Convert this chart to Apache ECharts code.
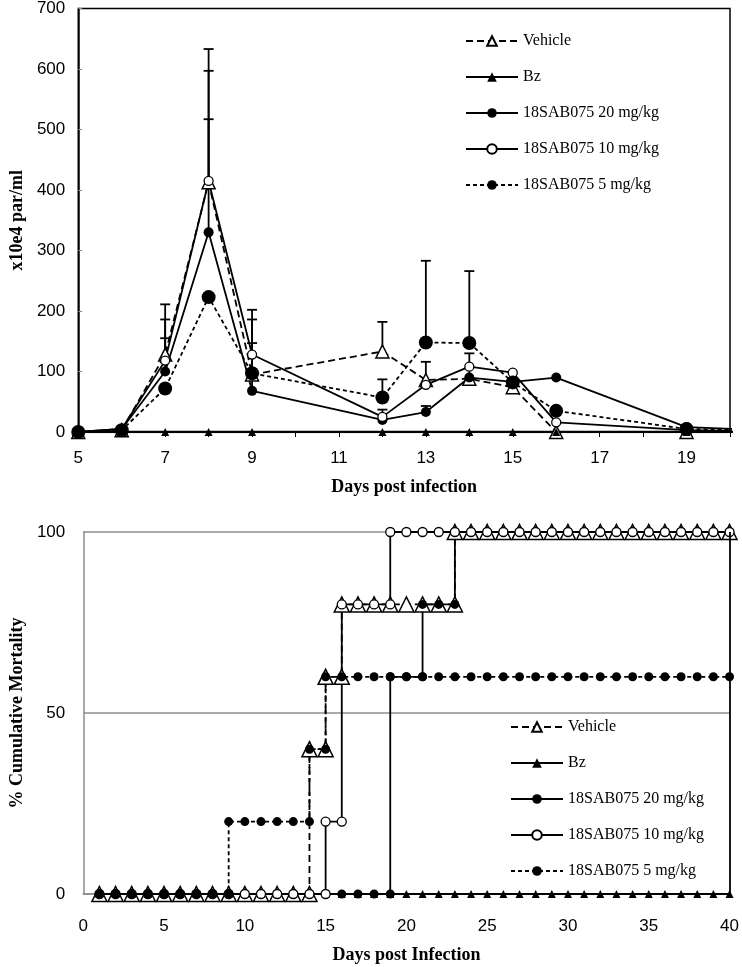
<!DOCTYPE html>
<html>
<head>
<meta charset="utf-8">
<script src="https://cdn.jsdelivr.net/npm/echarts@6/dist/echarts.min.js"></script>
<style>
html,body{margin:0;padding:0;background:#fff}
#main{width:742px;height:967px}
</style>
</head>
<body>
<div id="main"></div>
<script>
var names = ['Vehicle', 'Bz', '18SAB075 20 mg/kg', '18SAB075 10 mg/kg', '18SAB075 5 mg/kg'];

// parasitemia (x10e4 par/ml) per day post infection
var dayPar = [5, 6, 7, 8, 9, 12, 13, 14, 15, 16, 19, 22];
var vehiclePar = [0, 3, 128, 413, 95, 133, 86, 88, 74, 0, 0, 0];
var bzPar = [0, 0, 0, 0, 0, 0, 0, 0, 0, 0, 0, 0];
var mg20Par = [0, 5, 100, 330, 68, 20, 33, 90, 83, 90, 8, 0];
var mg10Par = [0, 5, 118, 415, 128, 25, 78, 108, 98, 16, 3, 0];
var mg5Par = [0, 3, 72, 223, 97, 57, 148, 147, 82, 35, 5, 0];

// error bars (upper side only)
var errDay = [7, 7, 7, 8, 8, 8, 9, 9, 9, 12, 12, 12, 13, 13, 13, 14, 14];
var errMean = [128, 118, 100, 413, 415, 330, 95, 128, 68, 133, 57, 25, 148, 78, 33, 147, 108];
var errTop = [211, 186, 155, 633, 597, 517, 202, 186, 147, 182, 87, 37, 283, 116, 43, 266, 130];

// cumulative mortality (%) on days 1..40
var vehicleMort = [0,0,0,0,0,0,0,0,0,0,0,0,0,40,60,80,80,80,80,80,80,80,100,100,100,100,100,100,100,100,100,100,100,100,100,100,100,100,100,100];
var bzMort = [0,0,0,0,0,0,0,0,0,0,0,0,0,0,0,0,0,0,0,0,0,0,0,0,0,0,0,0,0,0,0,0,0,0,0,0,0,0,0,0];
var mg20Mort = [0,0,0,0,0,0,0,0,0,0,0,0,0,0,0,0,0,0,60,60,80,80,100,100,100,100,100,100,100,100,100,100,100,100,100,100,100,100,100,100];
var mg10Mort = [0,0,0,0,0,0,0,0,0,0,0,0,0,0,20,80,80,80,100,100,100,100,100,100,100,100,100,100,100,100,100,100,100,100,100,100,100,100,100,100];
var mg5Mort = [0,0,0,0,0,0,0,0,20,20,20,20,20,40,60,60,60,60,60,60,60,60,60,60,60,60,60,60,60,60,60,60,60,60,60,60,60,60,60,60];

var sans = 'Liberation Sans';
var serif = 'Liberation Serif';

function pairs(xs, ys) {
    var out = [];
    for (var i = 0; i < xs.length; i++) out.push([xs[i], ys[i]]);
    return out;
}
// step curve: on a day where the value changes, mark both old and new level
function steps(vals) {
    var out = [];
    for (var i = 0; i < vals.length; i++) {
        if (i > 0 && vals[i] !== vals[i - 1]) out.push([i + 1, vals[i - 1]]);
        out.push([i + 1, vals[i]]);
    }
    return out;
}

var openTri = {color: '#fff', borderColor: '#000', borderWidth: 1.5};
var openDot = {color: '#fff', borderColor: '#000', borderWidth: 1.3};
var fill = {color: '#000'};

function mk(name, grid, data, symbol, size, item, dash, width) {
    return {
        name: name, type: 'line', xAxisIndex: grid, yAxisIndex: grid,
        data: data, symbol: symbol, symbolSize: size, itemStyle: item,
        lineStyle: {color: '#000', width: width || 1.8, type: dash || 'solid'},
        showSymbol: true
    };
}

var legendBase = {
    data: names, orient: 'vertical', itemWidth: 52, itemHeight: 12, itemGap: 20,
    selectedMode: false,
    textStyle: {fontFamily: serif, fontSize: 16, color: '#000'}
};

var axisText = {fontFamily: sans, fontSize: 17, color: '#000'};
var titleText = {fontFamily: serif, fontWeight: 'bold', fontSize: 18, color: '#000'};

var option = {
    animation: false,
    backgroundColor: '#fff',
    legend: [
        Object.assign({left: 460, top: 28}, legendBase),
        Object.assign({left: 505, top: 714}, legendBase)
    ],
    grid: [
        {left: 71, top: 7, width: 659, height: 425, show: true, borderColor: '#000', borderWidth: 1.5},
        {left: 71, top: 532, width: 661, height: 362}
    ],
    xAxis: [
        {
            gridIndex: 0, type: 'value', min: 5, max: 20, interval: 1,
            axisLine: {show: true, onZero: false, lineStyle: {color: '#000', width: 1.5}},
            axisTick: {show: true, length: 5, lineStyle: {color: '#000'}},
            axisLabel: Object.assign({margin: 18, formatter: function (v) { return (v % 2 === 1 && v < 20) ? v : ''; }}, axisText),
            splitLine: {show: false},
            name: 'Days post infection', nameLocation: 'middle', nameGap: 46, nameTextStyle: titleText
        },
        {
            gridIndex: 1, type: 'value', min: 0, max: 40, interval: 5,
            axisLine: {show: true, onZero: false, lineStyle: {color: '#8c8c8c', width: 1.5}},
            axisTick: {show: false},
            axisLabel: Object.assign({margin: 24}, axisText),
            splitLine: {show: false},
            name: 'Days post Infection', nameLocation: 'middle', nameGap: 52, nameTextStyle: titleText
        }
    ],
    yAxis: [
        {
            gridIndex: 0, type: 'value', min: 0, max: 700, interval: 100,
            axisLine: {show: true, onZero: false, lineStyle: {color: '#000', width: 1.5}},
            axisTick: {show: true, inside: true, length: 4, lineStyle: {color: '#888'}},
            axisLabel: Object.assign({margin: 13}, axisText),
            splitLine: {show: false},
            name: 'x10e4 par/ml', nameLocation: 'middle', nameGap: 40, nameTextStyle: titleText
        },
        {
            gridIndex: 1, type: 'value', min: 0, max: 100, interval: 50,
            axisLine: {show: true, onZero: false, lineStyle: {color: '#8c8c8c', width: 1.5}},
            axisTick: {show: false},
            axisLabel: Object.assign({margin: 18}, axisText),
            splitLine: {show: true, lineStyle: {color: '#8c8c8c', width: 1.5}},
            name: '% Cumulative Mortality', nameLocation: 'middle', nameGap: 40, nameTextStyle: titleText
        }
    ],
    series: [
        mk(names[0], 0, pairs(dayPar, vehiclePar), 'triangle', 13, openTri, [7, 4]),
        mk(names[1], 0, pairs(dayPar, bzPar), 'triangle', 8, fill, 'solid', 2.5),
        mk(names[2], 0, pairs(dayPar, mg20Par), 'circle', 10, fill),
        mk(names[3], 0, pairs(dayPar, mg10Par), 'circle', 9, openDot),
        mk(names[4], 0, pairs(dayPar, mg5Par), 'circle', 14, fill, [4, 3]),
        {
            type: 'custom', xAxisIndex: 0, yAxisIndex: 0, z: 1,
            data: errDay.map(function (d, i) { return [d, errMean[i], errTop[i]]; }),
            encode: {x: 0, y: [1, 2]},
            renderItem: function (params, api) {
                var lo = api.coord([api.value(0), api.value(1)]);
                var hi = api.coord([api.value(0), api.value(2)]);
                var st = {stroke: '#000', lineWidth: 1.8};
                return {type: 'group', children: [
                    {type: 'line', shape: {x1: lo[0], y1: lo[1], x2: hi[0], y2: hi[1]}, style: st},
                    {type: 'line', shape: {x1: hi[0] - 5, y1: hi[1], x2: hi[0] + 5, y2: hi[1]}, style: st}
                ]};
            }
        },
        mk(names[0], 1, steps(vehicleMort), 'triangle', 15, openTri, [7, 4]),
        mk(names[1], 1, steps(bzMort), 'triangle', 8, fill),
        Object.assign(mk(names[2], 1, steps(mg20Mort), 'circle', 9, fill), {
            markLine: {
                silent: true, symbol: 'none', label: {show: false},
                lineStyle: {color: '#000', width: 1.8, type: 'solid'},
                data: [[{coord: [40, 0]}, {coord: [40, 100]}]]
            }
        }),
        mk(names[3], 1, steps(mg10Mort), 'circle', 9, openDot),
        mk(names[4], 1, steps(mg5Mort), 'circle', 9, fill, [4, 3])
    ]
};

var chart = echarts.init(document.getElementById('main'));
chart.setOption(option);
</script>
</body>
</html>
